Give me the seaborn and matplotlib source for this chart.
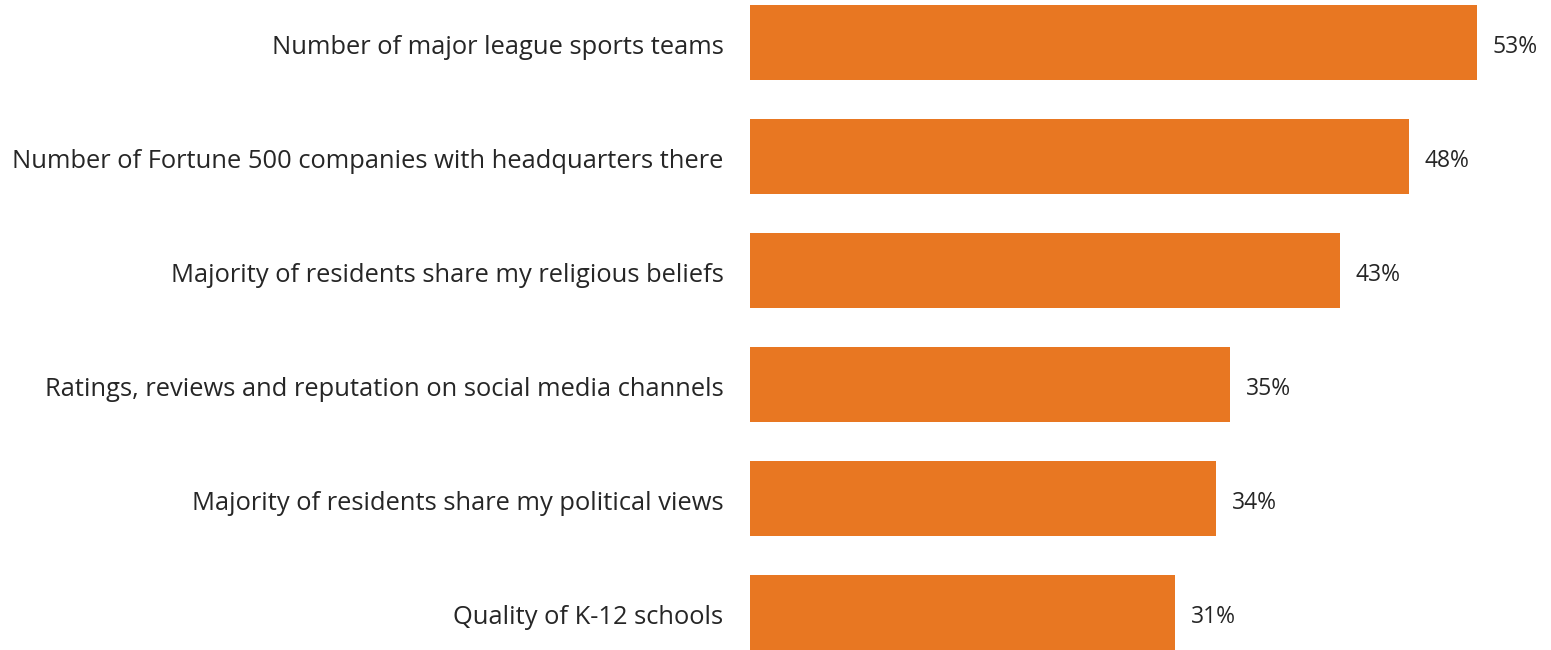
import matplotlib
matplotlib.use("Agg")
import matplotlib.pyplot as plt
import matplotlib.transforms as mtransforms
import seaborn as sns
import pandas as pd

# ------------------------------------------------------------
# data
# ------------------------------------------------------------
factors = [
    "Number of major league sports teams",
    "Number of Fortune 500 companies with headquarters there",
    "Majority of residents share my religious beliefs",
    "Ratings, reviews and reputation on social media channels",
    "Majority of residents share my political views",
    "Quality of K-12 schools",
]
shares = [53, 48, 43, 35, 34, 31]

df = pd.DataFrame({"factor": factors, "share": shares})

sns.set_theme(style="white")
plt.rcParams["font.family"] = ["Open Sans", "DejaVu Sans"]

W, H = 1551, 650
fig = plt.figure(figsize=(W / 100, H / 100), dpi=100)
# axes box: bars start at x=750px, 114px per row
ax = fig.add_axes([750 / W, (H - 669.5) / H, (W - 750) / W, 684 / H])

sns.barplot(data=df, x="share", y="factor", color="#E87722",
            width=0.658, saturation=1, linewidth=0, ax=ax)

ax.set_xlim(0, (W - 750) / 13.72)
ax.set_ylim(5.5, -0.5)
ax.set_xlabel("")
ax.set_ylabel("")
ax.set_xticks([])
for s in ax.spines.values():
    s.set_visible(False)
ax.tick_params(axis="y", length=0, pad=19, labelsize=18.4, labelcolor="#262626")

# nudge the category labels a couple of pixels down, like the source
shift = mtransforms.ScaledTranslation(0, -2 / 100, fig.dpi_scale_trans)
for lab in ax.get_yticklabels():
    lab.set_transform(lab.get_transform() + shift)

for i, v in enumerate(shares):
    ax.text(v + 1.15, i + 0.04, f"{v}%", va="center", ha="left",
            fontsize=16.5, color="#262626")

fig.savefig("out.png", dpi=100)
